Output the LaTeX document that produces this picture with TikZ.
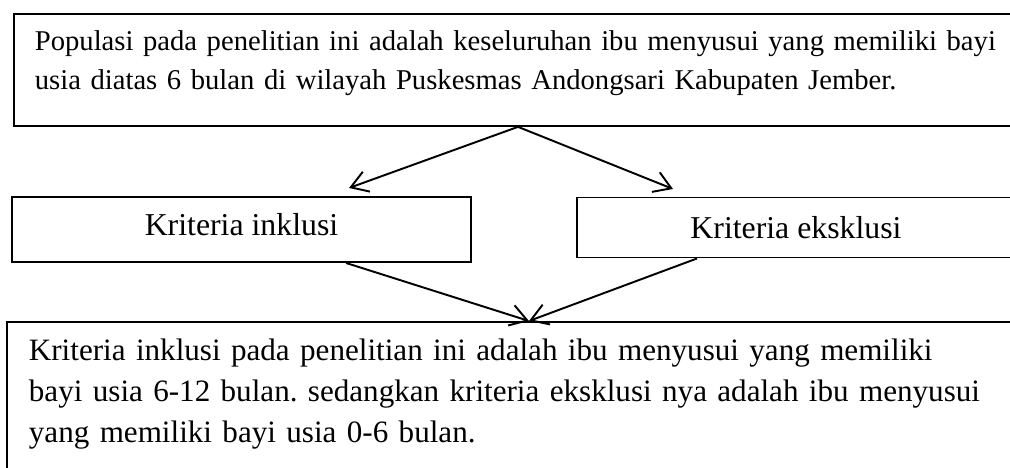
\documentclass[tikz,border=0pt]{standalone}
\usepackage{fontspec}
\setmainfont{Liberation Serif}
\usetikzlibrary{arrows.meta,calc}
\definecolor{FlowInk}{HTML}{000000}

\begin{document}
\frenchspacing
\begin{tikzpicture}[
  >={Straight Barb[length=9.5pt,width=12pt]},
  line join=miter,
  every node/.style={font=\fontsize{16.3pt}{22.2pt}\selectfont,text=black},
  flowbox/.style={draw=FlowInk,line width=1.1pt,inner sep=0pt},
  flowlabel/.style={font=\fontsize{18.1pt}{22pt}\selectfont},
  flowarrow/.style={->,FlowInk,line width=1.1pt}
]
  \useasboundingbox (0,0) rectangle (20.2,9.36);
  \clip (0,0) rectangle (20.2,9.36);

  \node[flowbox,anchor=north west,align=left,text width=560pt,
    inner xsep=11.9pt,text height=21pt,text depth=42.7pt] (popbox)
    at (0.26,9.10)
    {Populasi pada penelitian ini adalah keseluruhan ibu menyusui yang memiliki bayi\\
     usia diatas 6 bulan di wilayah Puskesmas Andongsari Kabupaten Jember.};

  \node[flowbox,flowlabel,minimum width=9.18cm,minimum height=1.30cm,
    text height=12pt,text depth=4.6pt] (inklbox)
    at (4.83,4.77) {Kriteria inklusi};
  \node[flowbox,flowlabel,minimum width=8.76cm,minimum height=1.20cm,
    text height=13pt,text depth=0pt] (eksbox)
    at (15.92,4.81) {Kriteria eksklusi};

  \node[flowbox,anchor=north west,align=left,text width=560pt,
    inner xsep=12.5pt,text height=22.2pt,text depth=70pt,
    font=\fontsize{17.7pt}{23.3pt}\selectfont] (critbox)
    at (0.12,2.94)
    {Kriteria inklusi pada penelitian ini adalah ibu menyusui yang memiliki\\
     bayi usia 6-12 bulan. sedangkan kriteria eksklusi nya adalah ibu menyusui\\
     yang memiliki bayi usia 0-6 bulan.};

  \coordinate (popfoot) at ($(popbox.south west)+(10.10,0)$);
  \coordinate (inkltip) at (6.98,5.60);
  \coordinate (ekstip) at (13.46,5.58);
  \coordinate (inklfoot) at ($(inklbox.south west)+(6.70,0)$);
  \coordinate (eksfoot) at ($(eksbox.south west)+(2.42,0)$);
  \coordinate (crittip) at ($(critbox.north west)+(10.46,0)$);

  \draw[flowarrow] (popfoot)--(inkltip);
  \draw[flowarrow] (popfoot)--(ekstip);
  \draw[flowarrow] (inklfoot)--(crittip);
  \draw[flowarrow] (eksfoot)--(crittip);
\end{tikzpicture}
\end{document}
